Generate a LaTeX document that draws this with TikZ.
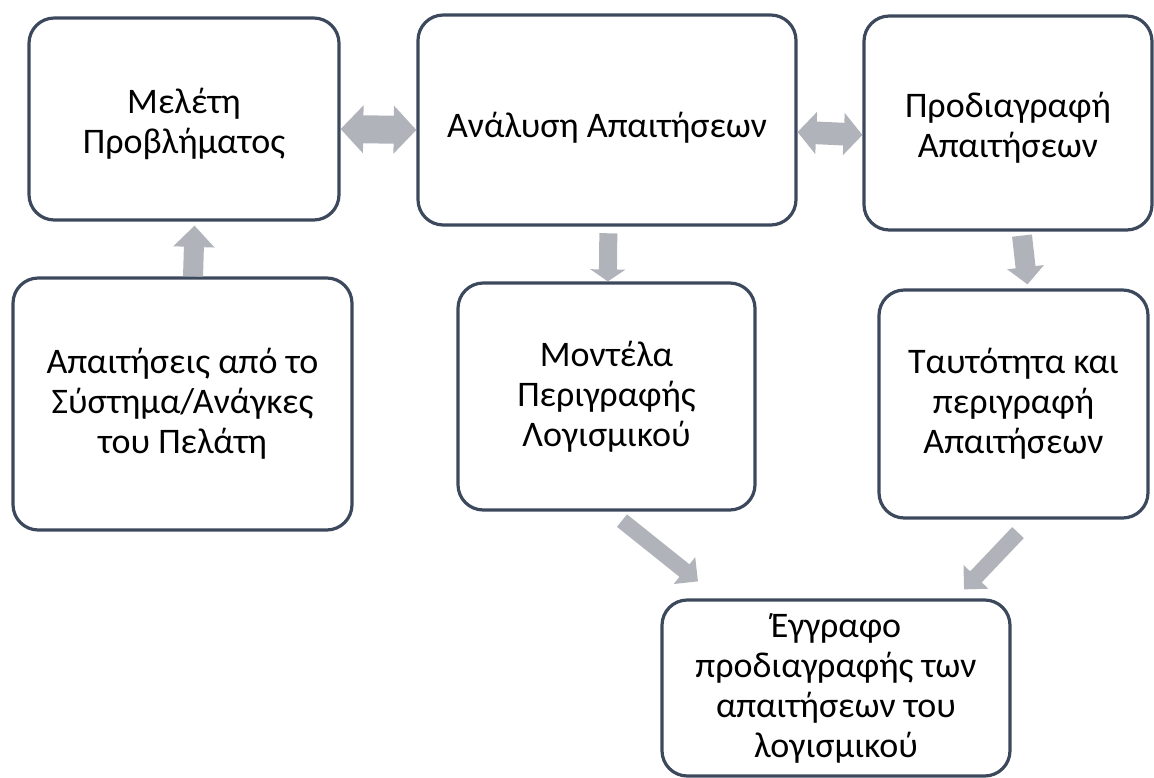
\documentclass[tikz,border=0pt]{standalone}
\usepackage{fontspec}
\setmainfont{Carlito}
\usetikzlibrary{arrows.meta}
\definecolor{boxline}{RGB}{60,73,92}
\definecolor{arrgray}{RGB}{176,179,186}
\tikzset{
  box/.style={draw=boxline, line width=2.4pt, rounded corners=19pt, align=center,
    font=\fontsize{27}{30}\selectfont, inner sep=0pt},
  blk/.style={draw=arrgray, line cap=butt},
}
\begin{document}
\begin{tikzpicture}[x=0.75pt,y=-0.75pt]
\useasboundingbox (0,0) rectangle (1154,778);
\node[box, minimum width=232.5pt, minimum height=151.5pt, text height=56pt] (B1) at (184,119) {Μελέτη\\Προβλήματος};
\node[box, minimum width=283.5pt, minimum height=157.5pt, text height=31pt] (B2) at (607,120) {Ανάλυση Απαιτήσεων};
\node[box, minimum width=216pt, minimum height=160.5pt, text height=56pt] (B3) at (1008,123) {Προδιαγραφή\\Απαιτήσεων};
\node[box, minimum width=254.25pt, minimum height=189pt] (B4) at (182.5,404) {Απαιτήσεις από το\\Σύστημα/Ανάγκες\\του Πελάτη};
\node[box, minimum width=222.75pt, minimum height=170.25pt] (B5) at (606.5,396.5) {Μοντέλα\\Περιγραφής\\Λογισμικού};
\node[box, minimum width=201.75pt, minimum height=171pt] (B6) at (1013.5,404) {Ταυτότητα και\\περιγραφή\\Απαιτήσεων};
\node[box, minimum width=261pt, minimum height=132pt] (B7) at (836,688) {Έγγραφο\\προδιαγραφής των\\απαιτήσεων του\\λογισμικού};
% block arrows
\draw[blk, line width=21pt, {Triangle[width=35pt,length=17pt]}-{Triangle[width=35pt,length=17pt]}]
  ([yshift=-7.5pt]B1.east) -- ([yshift=-7.5pt]B2.west);
\draw[blk, line width=17pt, {Triangle[width=31pt,length=14pt]}-{Triangle[width=31pt,length=14pt]}]
  ([yshift=-9pt]B2.east) -- ([yshift=-9pt]B3.west);
\draw[blk, line width=15pt, -{Triangle[width=30pt,length=16pt]}]
  ([xshift=7.9pt]B4.north) -- ([xshift=7.9pt,yshift=-3pt]B1.south);
\draw[blk, line width=13.5pt, -{Triangle[width=26pt,length=9pt]}]
  ([xshift=1pt,yshift=-5pt]B2.south) -- ([xshift=1pt]B5.north);
\draw[blk, line width=15pt, -{Triangle[width=27pt,length=13pt]}]
  ([xshift=10.5pt,yshift=-3pt]B3.south) -- ([xshift=10.5pt,yshift=3pt]B6.north);
\draw[blk, line width=12pt, -{Triangle[width=25pt,length=13pt]}]
  ([xshift=11.6pt,yshift=-6.75pt]B5.south) -- ([xshift=-103.5pt,yshift=12.75pt]B7.north);
\draw[blk, line width=12pt, -{Triangle[width=25pt,length=13pt]}]
  ([xshift=3.4pt,yshift=-9.75pt]B6.south) -- ([xshift=96pt,yshift=6.75pt]B7.north);
\end{tikzpicture}
\end{document}
